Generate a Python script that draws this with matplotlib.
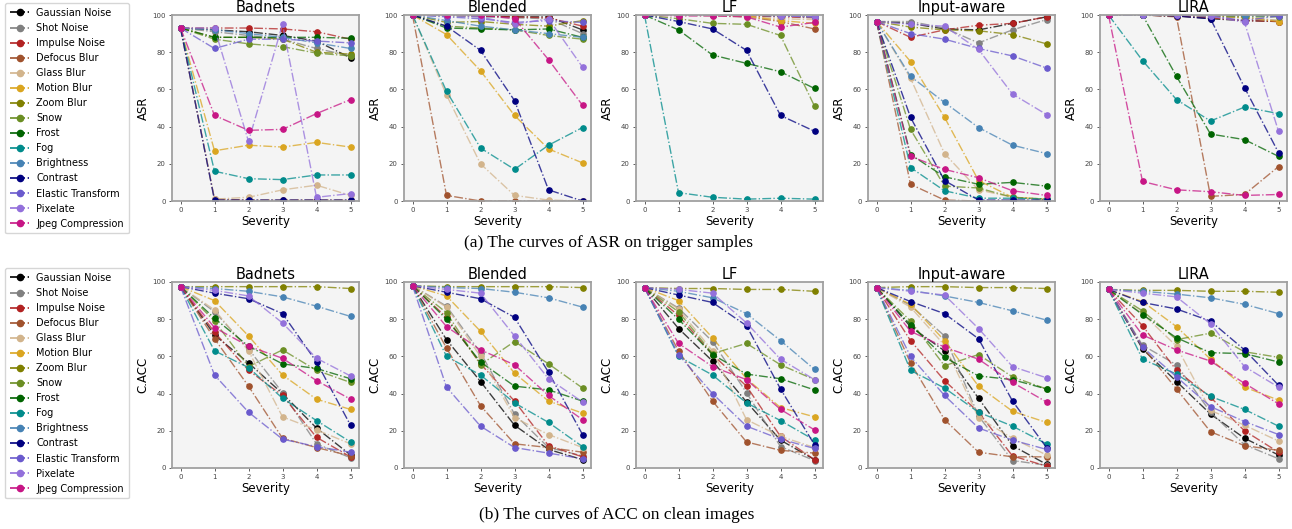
import matplotlib
matplotlib.use("Agg")
import matplotlib.pyplot as plt
from matplotlib.lines import Line2D

severity = [0, 1, 2, 3, 4, 5]

corruptions = ["Gaussian Noise", "Shot Noise", "Impulse Noise", "Defocus Blur", "Glass Blur",
               "Motion Blur", "Zoom Blur", "Snow", "Frost", "Fog", "Brightness", "Contrast",
               "Elastic Transform", "Pixelate", "Jpeg Compression"]

colors = ["black", "gray", "firebrick", "sienna", "tan", "goldenrod", "olive", "olivedrab",
          "darkgreen", "darkcyan", "steelblue", "navy", "slateblue", "mediumpurple",
          "mediumvioletred"]

attacks = ["Badnets", "Blended", "LF", "Input-aware", "LIRA"]

# ---------------- ASR on trigger samples ----------------
asr_badnets = [
    [93, 92, 91, 89, 86, 77],
    [93, 91, 89, 87, 82, 78],
    [93, 93, 93, 92.5, 91, 87],
    [93, 1, 0.5, 0.5, 0.5, 0.5],
    [93, 1, 2, 6, 8.5, 3],
    [93, 27, 30, 29, 31.5, 29],
    [93, 88, 88, 87, 80, 79],
    [93, 87, 84.5, 83, 79.5, 78],
    [93, 88, 88, 88, 88, 87.5],
    [93, 16, 12, 11.5, 14, 14],
    [93, 92, 90, 88, 85, 82],
    [93, 0.5, 0.5, 0.5, 0.5, 0.5],
    [93, 82, 87, 87, 86, 85],
    [93, 93, 32, 95, 2, 4],
    [93, 46, 38, 38.5, 47, 54.5],
]
asr_blended = [
    [100, 100, 99.5, 99, 99, 92],
    [100, 99.5, 99, 98.5, 98, 90],
    [100, 100, 99.5, 99, 98.5, 94],
    [100, 3, 0, 0, 0, 0],
    [100, 57, 20, 3, 0.5, 0],
    [100, 89.5, 70, 46, 28, 20.5],
    [100, 96, 96.5, 95, 94, 97],
    [100, 94, 93, 92, 89, 87],
    [100, 93, 92.5, 92, 92.5, 88],
    [100, 59, 28.5, 17, 30, 39.5],
    [100, 97, 94, 92, 90, 88],
    [100, 94, 81, 54, 6, 0],
    [100, 99, 98, 96, 97, 96],
    [100, 100, 99, 95, 98, 72],
    [100, 100, 100, 98, 76, 51.5],
]
asr_lf = [
    [100, 100, 100, 100, 99.5, 99],
    [100, 100, 100, 100, 99.5, 99],
    [100, 100, 100, 99.5, 99, 98.5],
    [100, 100, 100, 99, 96.5, 92.5],
    [100, 100, 99.5, 99, 98, 97.5],
    [100, 100, 100, 99.5, 97, 95.5],
    [100, 100, 100, 100, 99.5, 99],
    [100, 98, 95.5, 95, 89, 51],
    [100, 92, 78.5, 74, 69.5, 60.5],
    [100, 4.5, 2, 1, 1.5, 1],
    [100, 100, 100, 100, 99.5, 99],
    [100, 96.5, 92.5, 81, 46, 37.5],
    [100, 100, 100, 100, 99.5, 99],
    [100, 100, 100, 100, 99.5, 99],
    [100, 99.5, 99.5, 99, 93.5, 96],
]
asr_input_aware = [
    [96.5, 95.5, 92.5, 92, 95.5, 99],
    [96.5, 96.5, 93, 85, 92, 97.5],
    [96.5, 88, 92, 94.5, 95.5, 99],
    [96.5, 9, 0.5, 0, 0, 0],
    [96.5, 66, 25.5, 6, 2, 1],
    [96.5, 75, 45, 11, 2, 1],
    [96.5, 93.5, 92, 91.5, 89.5, 84.5],
    [96.5, 38.5, 8, 7, 2, 1],
    [96.5, 25, 13, 9, 10, 8],
    [96.5, 18, 5.5, 1.5, 1.5, 1],
    [96.5, 67, 53, 39.5, 30, 25.5],
    [96.5, 45, 11, 0.5, 0.5, 0.5],
    [96.5, 90, 87, 82, 78, 71.5],
    [96.5, 95, 94, 81.5, 57.5, 46.5],
    [96.5, 24, 17, 12.5, 5.5, 3],
]
asr_lira = [
    [100, 100, 99.5, 98, 97, 96.5],
    [100, 100, 100, 99, 98.5, 97],
    [100, 100, 99.5, 98.5, 97, 96.5],
    [100, 100, 99, 2.5, 3.5, 18.5],
    [100, 100, 100, 99.5, 99, 97],
    [100, 100, 100, 99.5, 98.5, 96.5],
    [100, 100, 100, 100, 99.5, 99.5],
    [100, 100, 100, 99.5, 99, 99],
    [100, 100, 67, 36, 33, 24],
    [100, 75.5, 54.5, 43, 50.5, 47],
    [100, 100, 100, 100, 99.5, 99.5],
    [100, 100, 99.5, 98, 61, 26],
    [100, 100, 100, 99.5, 97, 99.5],
    [100, 100, 100, 99.5, 96, 37.5],
    [100, 10.5, 6, 5, 3, 3.5],
]

# ---------------- ACC on clean images ----------------
acc_badnets = [
    [97.5, 71.5, 56.5, 40, 21.5, 7],
    [97.5, 84, 64, 40.5, 13, 5.5],
    [97.5, 73, 52.5, 39, 16.5, 6],
    [97.5, 69.5, 44, 16, 11, 6.5],
    [97.5, 85, 63, 27.5, 20.5, 13],
    [97.5, 90, 71, 50, 37, 31.5],
    [97.5, 97.5, 97.5, 97.5, 97.5, 96.5],
    [97.5, 79, 54.5, 63.5, 52.5, 46],
    [97.5, 80.5, 65.5, 56, 53.5, 48],
    [97.5, 63, 54, 37.5, 25.5, 14],
    [97.5, 96.5, 95, 92, 87, 81.5],
    [97.5, 94, 91, 83, 57, 23],
    [97.5, 50, 30, 15.5, 11.5, 8.5],
    [97.5, 95.5, 92.5, 78, 59, 49.5],
    [97.5, 75.5, 65.5, 59, 47, 37],
]
acc_blended = [
    [98, 69, 46.5, 23, 10, 4.5],
    [98, 87, 62, 29, 11, 6.5],
    [98, 81, 56, 36, 12, 6],
    [98, 64.5, 33.5, 13, 11, 8.5],
    [98, 86.5, 60, 27, 18, 11],
    [98, 92.5, 73.5, 51, 36, 29.5],
    [98, 97.5, 97.5, 97.5, 97.5, 97],
    [98, 83.5, 55.5, 68, 56, 43],
    [98, 80, 57, 44, 42, 36],
    [98, 60, 50, 35, 24.5, 11.5],
    [98, 97, 96.5, 94.5, 91.5, 86.5],
    [98, 94.5, 91, 81, 51.5, 18],
    [98, 43.5, 22.5, 11, 8, 5],
    [98, 96, 94, 71, 48, 35.5],
    [98, 76, 63.5, 55.5, 39, 26],
]
acc_lf = [
    [97, 75, 57.5, 35.5, 15, 4.5],
    [97, 86, 68, 40.5, 11.5, 4],
    [97, 82, 61, 44, 17, 4.5],
    [97, 63, 36, 14, 9.5, 8],
    [97, 85.5, 63, 26, 17, 11],
    [97, 90, 70, 48, 32.5, 27.5],
    [97, 96.5, 96.5, 96, 96, 95],
    [97, 84, 61.5, 67, 55.5, 47.5],
    [97, 80, 61, 50.5, 48, 42],
    [97, 60, 50, 35, 25.5, 15],
    [97, 95, 91.5, 83, 68.5, 53],
    [97, 93, 89, 76.5, 42.5, 12.5],
    [97, 61, 40, 22.5, 15.5, 10.5],
    [97, 96, 94, 78, 58.5, 47.5],
    [97, 67, 54.5, 47.5, 31.5, 20.5],
]
acc_input_aware = [
    [97, 76, 63, 37.5, 12, 2],
    [97, 87.5, 71, 28, 4, 1.5],
    [97, 68.5, 47, 30, 6.5, 1],
    [97, 56.5, 26, 8.5, 6, 6],
    [97, 86.5, 66, 27, 16, 7],
    [97, 88, 68.5, 44, 30.5, 24.5],
    [97, 97.5, 97.5, 97, 97, 96.5],
    [97, 79, 55, 61, 49, 42.5],
    [97, 77, 59.5, 49.5, 47.5, 42.5],
    [97, 52.5, 43, 30, 22.5, 13],
    [97, 95.5, 92.5, 89, 84.5, 79.5],
    [97, 89.5, 83, 69.5, 36, 11],
    [97, 60, 39, 21.5, 15, 10],
    [97, 95, 93, 75, 54.5, 48.5],
    [97, 73.5, 65, 58.5, 46, 35.5],
]
acc_lira = [
    [96, 64, 46.5, 29, 16, 7],
    [96, 66, 55.5, 30, 12.5, 5],
    [96, 76.5, 52.5, 38, 20, 8.5],
    [96, 65, 42.5, 19.5, 12, 9.5],
    [96, 83, 65.5, 31, 23, 14.5],
    [96, 89.5, 76, 58.5, 43.5, 36.5],
    [96, 95.5, 95.5, 95, 95, 94.5],
    [96, 84.5, 69, 72.5, 62.5, 59.5],
    [96, 82.5, 70, 62, 61.5, 57],
    [96, 58.5, 50.5, 38.5, 31.5, 22.5],
    [96, 95, 93.5, 91.5, 88, 83],
    [96, 89, 85.5, 79, 63.5, 44.5],
    [96, 65, 49, 33, 25, 18],
    [96, 94, 92, 77.5, 54.5, 43.5],
    [96, 71.5, 63.5, 57.5, 45.5, 34.5],
]

asr_all = [asr_badnets, asr_blended, asr_lf, asr_input_aware, asr_lira]
acc_all = [acc_badnets, acc_blended, acc_lf, acc_input_aware, acc_lira]

W, H = 1292, 529
fig = plt.figure(figsize=(W / 100, H / 100), dpi=100)
plt.rcParams['font.family'] = ['DejaVu Sans']

lefts = [172, 404, 636, 868, 1100]
aw, ah = 187, 186


def draw_row(data_list, top_px, ylabel):
    for i, (name, data) in enumerate(zip(attacks, data_list)):
        ax = fig.add_axes([lefts[i] / W, 1 - (top_px + ah) / H, aw / W, ah / H])
        ax.set_facecolor('#f4f4f4')
        for vals, c in zip(data, colors):
            ax.plot(severity, vals, ls='-.', lw=1.0, color=c, alpha=0.75)
            ax.plot(severity, vals, ls='none', marker='o', ms=3.8, color=c)
        ax.set_xlim(-0.25, 5.25)
        ax.set_ylim(0, 100)
        ax.set_xticks(severity)
        ax.set_yticks([0, 20, 40, 60, 80, 100])
        ax.tick_params(labelsize=5, length=2.5, width=0.6, colors='#444444', pad=2)
        for s in ax.spines.values():
            s.set_color('#a0a0a0')
            s.set_linewidth(1.3)
        ax.set_title(name, fontsize=10.5, pad=2)
        ax.set_xlabel('Severity', fontsize=8.5, labelpad=1)
        ax.set_ylabel(ylabel, fontsize=8.5, labelpad=2)


draw_row(asr_all, 15, 'ASR')
draw_row(acc_all, 282, 'C.ACC')

handles = [Line2D([], [], color=c, ls='-.', lw=1.2, marker='o', ms=4.5) for c in colors]
for top_px in (3, 268):
    fig.legend(handles, corruptions, loc='upper left',
               bbox_to_anchor=(5 / W, 1 - top_px / H), borderaxespad=0,
               fontsize=7, handlelength=2.0, handletextpad=0.7, labelspacing=0.52,
               frameon=True, edgecolor='#cccccc', fancybox=True, borderpad=0.5)

fig.text(608 / W, 1 - 243 / H, '(a) The curves of ASR on trigger samples',
         ha='center', va='center', fontsize=12.5, family='Liberation Serif')
fig.text(617 / W, 1 - 515 / H, '(b) The curves of ACC on clean images',
         ha='center', va='center', fontsize=12.5, family='Liberation Serif')

fig.savefig('out.png', dpi=100)
